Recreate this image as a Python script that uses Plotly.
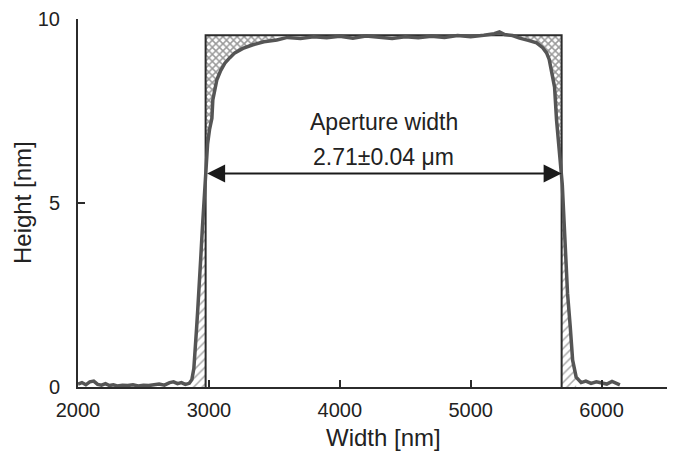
import plotly.graph_objects as go

profile_x = [2000, 2030, 2060, 2090, 2120, 2150, 2180, 2210, 2240, 2270, 2300, 2340, 2380,
             2420, 2460, 2500, 2540, 2580, 2620, 2660, 2700, 2730, 2760, 2790, 2820, 2850,
             2870, 2885, 2895, 2906, 2915, 2924, 2937, 2950, 2962, 2975, 2990, 3005, 3023,
             3030, 3045, 3061, 3090, 3122, 3160, 3198, 3260, 3336, 3420, 3519, 3600, 3700,
             3800, 3900, 4000, 4100, 4200, 4300, 4400, 4500, 4600, 4700, 4800, 4900, 5000,
             5100, 5180, 5220, 5260, 5320, 5374, 5440, 5504, 5550, 5580, 5600, 5618, 5641,
             5656, 5670, 5690, 5700, 5715, 5731, 5740, 5761, 5779, 5806, 5844, 5880, 5920,
             5960, 6000, 6040, 6080, 6110, 6140]
profile_y = [0.08, 0.12, 0.06, 0.14, 0.16, 0.07, 0.05, 0.09, 0.04, 0.06, 0.03, 0.05, 0.04,
             0.06, 0.03, 0.05, 0.04, 0.06, 0.08, 0.05, 0.12, 0.14, 0.09, 0.12, 0.07, 0.10,
             0.20, 0.50, 0.90, 1.60, 2.10, 2.55, 3.45, 4.30, 5.00, 5.80, 6.60, 7.00, 7.30,
             7.80, 8.10, 8.35, 8.60, 8.80, 8.95, 9.08, 9.20, 9.30, 9.38, 9.43, 9.50, 9.47,
             9.52, 9.49, 9.53, 9.48, 9.54, 9.50, 9.47, 9.52, 9.49, 9.53, 9.50, 9.55, 9.52,
             9.56, 9.60, 9.65, 9.58, 9.55, 9.48, 9.42, 9.35, 9.22, 9.08, 8.90, 8.61, 8.15,
             7.26, 6.60, 5.90, 5.50, 4.50, 3.45, 2.55, 1.63, 0.73, 0.27, 0.12, 0.16, 0.10,
             0.14, 0.12, 0.08, 0.15, 0.10, 0.06]

# Ideal aperture rectangle
rect_left = 2975
rect_right = 5695
rect_top = 9.56
arrow_y = 5.8

x_ticks = [2000, 3000, 4000, 5000, 6000]
y_ticks = [0, 5, 10]

DARK = "#2b2b2b"
fig = go.Figure()

def seg(x0, x1):
    pts = [(x, y) for x, y in zip(profile_x, profile_y) if x0 <= x <= x1]
    return [p[0] for p in pts], [p[1] for p in pts]

cross = dict(shape="x", fgcolor="#333", bgcolor="white", size=5, solidity=0.5)
diag = dict(shape="/", fgcolor="#555", bgcolor="white", size=6, solidity=0.25)

# bottom-left diagonal hatch
sx, sy = seg(2870, rect_left)
fig.add_trace(go.Scatter(x=sx + [rect_left, sx[0]], y=sy + [0, 0], fill="toself",
                         mode="lines", line=dict(width=0), fillcolor="white", fillpattern=diag,
                         hoverinfo="skip", showlegend=False))
# top-left cross hatch
sx, sy = seg(rect_left, 3519)
fig.add_trace(go.Scatter(x=sx + [sx[-1], rect_left], y=sy + [rect_top, rect_top], fill="toself",
                         mode="lines", line=dict(width=0), fillcolor="white", fillpattern=cross,
                         hoverinfo="skip", showlegend=False))
# top-right cross hatch
sx, sy = seg(5374, rect_right)
fig.add_trace(go.Scatter(x=sx + [rect_right, rect_right, sx[0]], y=sy + [arrow_y, rect_top, rect_top], fill="toself",
                         mode="lines", line=dict(width=0), fillcolor="white", fillpattern=cross,
                         hoverinfo="skip", showlegend=False))
# bottom-right diagonal hatch
sx, sy = seg(rect_right, 5806)
fig.add_trace(go.Scatter(x=[rect_right] + sx + [sx[-1], rect_right], y=[arrow_y] + sy + [0, 0], fill="toself",
                         mode="lines", line=dict(width=0), fillcolor="white", fillpattern=diag,
                         hoverinfo="skip", showlegend=False))

# rectangle
fig.add_trace(go.Scatter(x=[rect_left, rect_left, rect_right, rect_right],
                         y=[0, rect_top, rect_top, 0], mode="lines",
                         line=dict(color=DARK, width=2), showlegend=False, hoverinfo="skip"))
# profile
fig.add_trace(go.Scatter(x=profile_x, y=profile_y, mode="lines",
                         line=dict(color="#555555", width=3.5), showlegend=False))

fig.add_annotation(x=rect_right, y=arrow_y, ax=rect_left, ay=arrow_y, axref="x", ayref="y",
                   xref="x", yref="y", text="", showarrow=True, arrowside="end+start",
                   arrowhead=2, arrowsize=1.8, arrowwidth=2, arrowcolor="#1a1a1a",
                   standoff=0, startstandoff=0)
fig.add_annotation(x=(rect_left + rect_right) / 2, y=7.2, xref="x", yref="y", text="Aperture width",
                   showarrow=False, font=dict(size=23, color="#222"))
fig.add_annotation(x=(rect_left + rect_right) / 2, y=6.25, xref="x", yref="y", text="2.71±0.04 μm",
                   showarrow=False, font=dict(size=23, color="#222"))

fig.add_annotation(x=4336, y=-0.136, xref="x", yref="paper", text="Width [nm]",
                   showarrow=False, font=dict(size=24, color="#222"), yanchor="middle")
fig.add_annotation(x=-0.095, y=0.5, xref="paper", yref="paper", text="Height [nm]", textangle=-90,
                   showarrow=False, font=dict(size=24, color="#222"), xanchor="center")

fig.update_layout(
    width=675, height=452, margin=dict(l=78, r=8, t=19, b=65),
    paper_bgcolor="white", plot_bgcolor="white",
    font=dict(family="Liberation Sans, Arial, sans-serif", color="#222"),
    xaxis=dict(range=[2000, 6500], tickvals=x_ticks, ticks="inside", ticklen=7, tickwidth=2,
               tickcolor=DARK, showline=True, linecolor=DARK, linewidth=2, showgrid=False,
               zeroline=False, tickfont=dict(size=20), ticklabelstandoff=4),
    yaxis=dict(range=[0, 10], tickvals=y_ticks, ticks="inside", ticklen=7, tickwidth=2,
               tickcolor=DARK, showline=True, linecolor=DARK, linewidth=2, showgrid=False,
               zeroline=False, tickfont=dict(size=20), ticklabelstandoff=12),
)
fig.write_html("out.html")
